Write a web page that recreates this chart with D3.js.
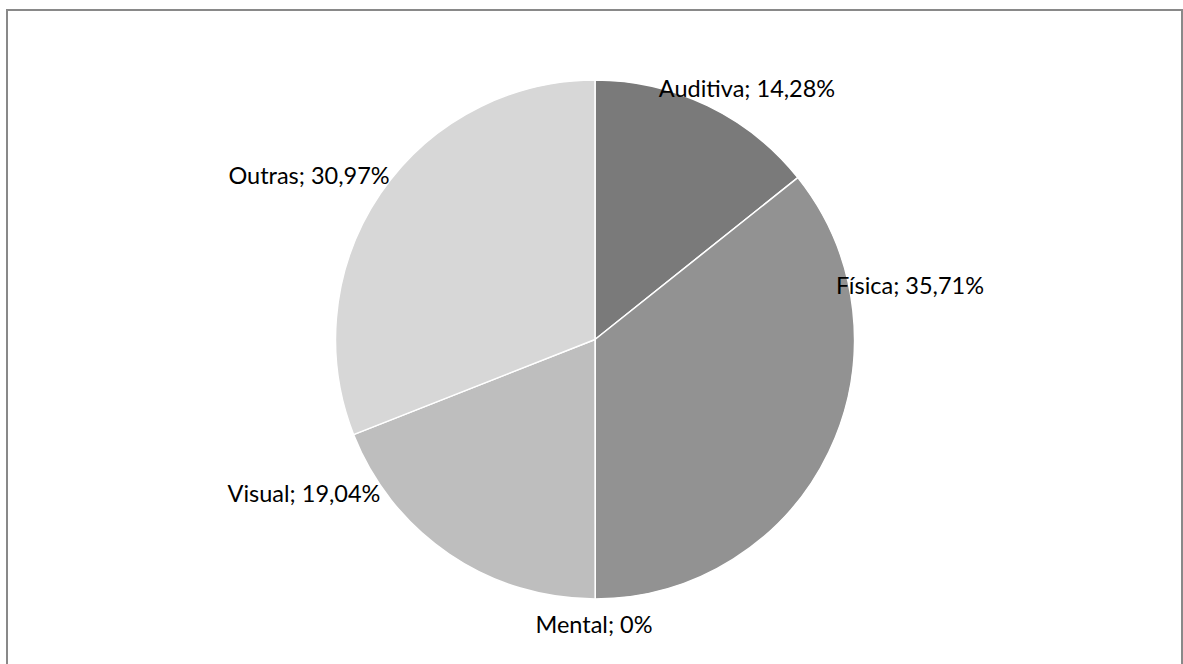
<!DOCTYPE html>
<html>
<head>
<meta charset="utf-8">
<script src="https://cdn.jsdelivr.net/npm/d3@7"></script>
<style>
  html, body { margin: 0; padding: 0; background: #fff; }
  svg { display: block; }
</style>
</head>
<body>
<svg id="chart" width="1183" height="664"></svg>
<script>
// Data
const categories = ["Auditiva", "Física", "Mental", "Visual", "Outras"];
const values = [14.28, 35.71, 0, 19.04, 30.97];
const valueLabels = ["14,28%", "35,71%", "0%", "19,04%", "30,97%"];
const colors = ["#7a7a7a", "#929292", "#a6a6a6", "#bebebe", "#d7d7d7"];

// Label placement (Excel "best fit" offsets from pie centre, in px)
const labelOffsets = [[152, -252], [315, -55], [-1, 284], [-291, 153], [-286, -165]];

const svg = d3.select("#chart");

// chart border
svg.append("rect")
  .attr("x", 7).attr("y", 10)
  .attr("width", 1175).attr("height", 670)
  .attr("fill", "#fff")
  .attr("stroke", "#898989")
  .attr("stroke-width", 2);

const cx = 595, cy = 339.5, r = 259.5;

const pie = d3.pie().value(d => d.value).sort(null);
const arc = d3.arc().innerRadius(0).outerRadius(r);

const data = categories.map((c, i) => ({ name: c, value: values[i], label: valueLabels[i], color: colors[i], off: labelOffsets[i] }));

const g = svg.append("g").attr("transform", `translate(${cx},${cy})`);

g.selectAll("path.slice")
  .data(pie(data))
  .join("path")
  .attr("class", "slice")
  .attr("d", arc)
  .attr("fill", d => d.data.color)
  .attr("stroke", "#fff")
  .attr("stroke-width", 1.5)
  .attr("stroke-linejoin", "round");

g.selectAll("text.lbl")
  .data(data)
  .join("text")
  .attr("class", "lbl")
  .attr("x", d => d.off[0])
  .attr("y", d => d.off[1])
  .attr("text-anchor", "middle")
  .attr("dominant-baseline", "central")
  .attr("font-family", "Lato, 'Open Sans', sans-serif")
  .attr("font-size", 23.5)
  .attr("fill", "#000")
  .text(d => `${d.name}; ${d.label}`);
</script>
</body>
</html>
